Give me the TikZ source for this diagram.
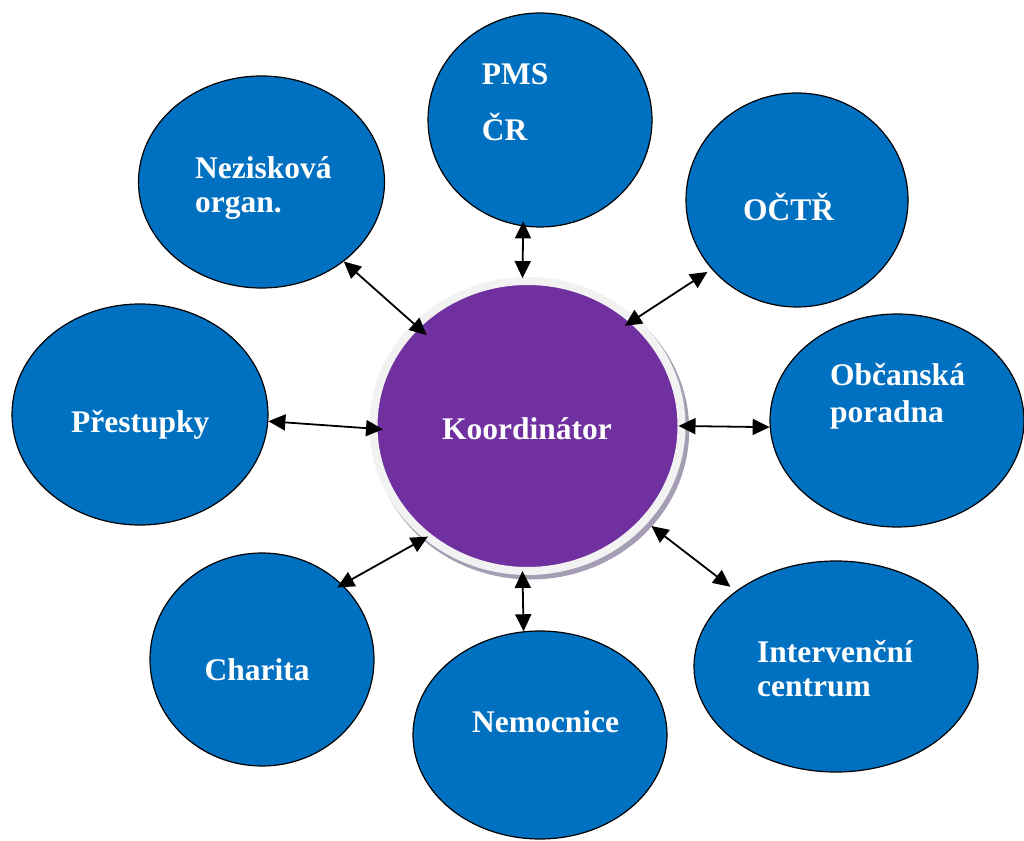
\documentclass[tikz,border=0pt]{standalone}
\usepackage{fontspec}
\setmainfont{Liberation Serif}
\usepackage{xcolor}
\usetikzlibrary{shapes.geometric,arrows.meta,shadows}
\definecolor{orgblue}{HTML}{0070C0}
\definecolor{hub}{HTML}{7030A0}
\definecolor{ring}{HTML}{F2F2F2}
\definecolor{shade}{HTML}{A59DB3}
\definecolor{text}{HTML}{FFFFFF}
\tikzset{
  org/.style={ellipse, draw=black, fill=orgblue, line width=1.2pt, inner sep=0pt},
  hubnode/.style={ellipse, draw=ring, fill=hub, line width=8pt, inner sep=0pt, outer sep=0pt,
    minimum width=308pt, minimum height=290pt,
    drop shadow={shadow xshift=3pt, shadow yshift=-4pt, shadow scale=1.03, fill=shade, opacity=1}},
  arr/.tip={Triangle[length=17pt,width=16pt]},
  link/.style={draw=black, line width=1.8pt, arr-arr},
  lab/.style={text=text, font=\fontsize{31.5}{34}\selectfont\bfseries, inner sep=0pt, align=left},
}

\begin{document}
\begin{tikzpicture}[x=1pt,y=1pt]
  \useasboundingbox (0,0) rectangle (1024,840);

  % partner organisations
  \node[org, minimum width=246pt, minimum height=212pt] (nezisk) at (261.5,658) {};
  \node[org, minimum width=224pt, minimum height=214pt] (pms) at (540,720) {};
  \node[org, minimum width=222pt, minimum height=214pt] (octr) at (797,640) {};
  \node[org, minimum width=256pt, minimum height=221pt] (prestup) at (140,425.5) {};
  \node[org, minimum width=254pt, minimum height=213pt] (obcan) at (897,419.5) {};
  \node[org, minimum width=224pt, minimum height=213pt] (charita) at (262,180.5) {};
  \node[org, minimum width=254pt, minimum height=208pt] (nemoc) at (540,105) {};
  \node[org, minimum width=284pt, minimum height=211pt] (interv) at (836,173.5) {};
  \node[hubnode] (koord) at (527.5,414) {};

  \draw[link, shorten >=-14pt] (nezisk.-44) -- (koord.138);
  \draw[link, shorten <=-5pt, shorten >=3pt] (pms.-99.5) -- (koord.92);
  \draw[link, shorten <=5pt, shorten >=-10pt] (octr.-141) -- (koord.45.4);
  \draw[link, shorten >=-9.5pt] (prestup.-3) -- (koord.181);
  \draw[link, shorten >=-3pt] (obcan.183.4) -- (koord.0.4);
  \draw[link, shorten <=-6pt] (charita.43.2) -- (koord.228.1);
  \draw[link] (nemoc.99.7) -- (koord.268);
  \draw[link, shorten <=7pt, shorten >=9pt] (interv.143.5) -- (koord.-39.8);

  \node[lab, anchor=base west] (pmsT) at (481.6,699) {PMS\\[22pt]ČR};
  \node[lab, anchor=base west] (neziskT) at (195,627) {Nezisková\\organ.};
  \node[lab, anchor=base west] (octrT) at (743,619) {OČTŘ};
  \node[lab, anchor=base west] (prestupT) at (71,407) {Přestupky};
  \node[lab, anchor=base] (koordT) at (527,400) {Koordinátor};
  \node[lab, anchor=base west] (obcanT) at (830,417) {Občanská\\[3pt]poradna};
  \node[lab, anchor=base west] (charitaT) at (204.5,159) {Charita};
  \node[lab, anchor=base west] (nemocT) at (472,107) {Nemocnice};
  \node[lab, anchor=base west] (intervT) at (757,143) {Intervenční\\centrum};
\end{tikzpicture}
\end{document}
